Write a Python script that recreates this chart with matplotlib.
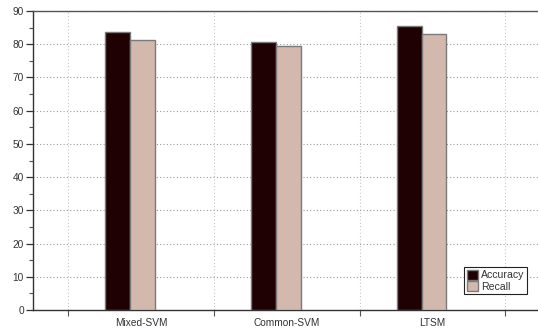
import matplotlib
matplotlib.use("Agg")
import matplotlib.pyplot as plt
from matplotlib.ticker import MultipleLocator, FixedLocator
import numpy as np

plt.rcParams['font.family'] = ['Liberation Sans', 'DejaVu Sans']

categories = ["Mixed-SVM", "Common-SVM", "LTSM"]
accuracy = [83.8, 80.8, 85.4]
recall = [81.3, 79.4, 83.1]

fig = plt.figure(figsize=(5.38, 3.29), dpi=100)
W, H = 538, 329
ax = fig.add_axes([33 / W, 19 / H, 506 / W, 299 / H])

x = np.arange(1, len(categories) + 1)
width = 0.17
ax.bar(x - 0.16, accuracy, width, color="#1f0003", edgecolor="#7a7a7a",
       linewidth=1.0, label="Accuracy", zorder=3)
ax.bar(x + 0.01, recall, width, color="#d3b8ad", edgecolor="#7a7a7a",
       linewidth=1.0, label="Recall", zorder=3)

ax.set_xlim(0.26, 3.73)
ax.set_ylim(0, 90)

ax.xaxis.set_major_locator(FixedLocator(x))
ax.set_xticklabels(categories, fontsize=7.3, color="#333333")
ax.xaxis.set_minor_locator(FixedLocator(np.arange(0.5, 4.0, 1.0)))
ax.tick_params(axis="x", which="major", length=0, pad=6)
ax.tick_params(axis="x", which="minor", length=4, width=0.8, color="#555555", direction="out")

ax.yaxis.set_major_locator(MultipleLocator(10))
ax.yaxis.set_minor_locator(MultipleLocator(5))
ax.tick_params(axis="y", which="major", length=5, width=0.9, color="#333333",
               labelsize=7.3, labelcolor="#333333", pad=1.5)
ax.tick_params(axis="y", which="minor", length=3, width=0.8, color="#555555")

ax.grid(axis="y", which="major", linestyle=(0, (1, 2)), color="#9a9a9a", linewidth=0.8, zorder=0)
ax.grid(axis="x", which="minor", linestyle=(0, (1, 2)), color="#c8c8c8", linewidth=0.8, zorder=0)

ax.spines["right"].set_visible(False)
ax.spines["top"].set_color("#555555")
ax.spines["top"].set_linewidth(1.0)
ax.spines["left"].set_color("#333333")
ax.spines["bottom"].set_color("#333333")
ax.spines["left"].set_linewidth(1.0)
ax.spines["bottom"].set_linewidth(1.0)

leg = ax.legend(loc="lower right", bbox_to_anchor=(0.977, 0.052), fontsize=7.6,
                fancybox=False, edgecolor="#222222", framealpha=1,
                handlelength=1.0, handleheight=1.0, handletextpad=0.35,
                borderpad=0.25, labelspacing=0.1, borderaxespad=0)
leg.get_frame().set_linewidth(0.8)
for t in leg.get_texts():
    t.set_color("#333333")

fig.savefig("out.png", dpi=100)
